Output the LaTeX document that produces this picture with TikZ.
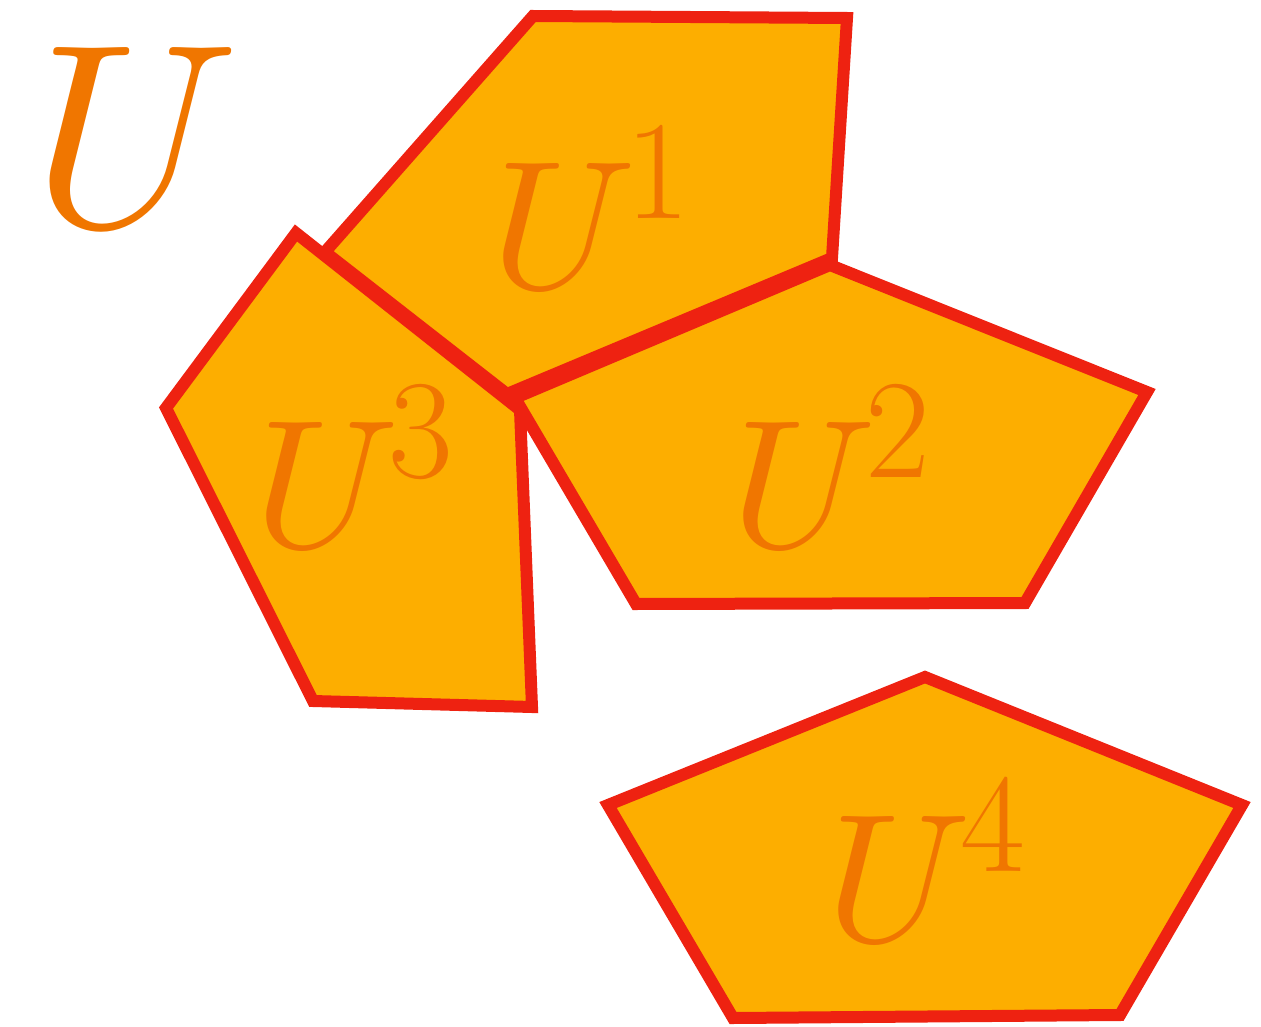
\documentclass[tikz,border=0pt]{standalone}
\DeclareFontShape{OML}{cmm}{m}{it}{<->cmmi10}{}
\DeclareFontShape{OT1}{cmr}{m}{n}{<->cmr10}{}
\DeclareFontShape{OMS}{cmsy}{m}{n}{<->cmsy10}{}
\DeclareMathSizes{183}{183}{141}{110}
\DeclareMathSizes{262}{262}{190}{150}
\definecolor{pfill}{RGB}{253,174,0}
\definecolor{pline}{RGB}{238,34,17}
\definecolor{ptext}{RGB}{240,118,0}
\newcommand{\usub}[1]{$U$\kern-11pt\raisebox{70pt}{\fontsize{141}{141}\selectfont #1}}
\tikzset{
  region/.style={draw=pline, fill=pfill, line width=12pt, line join=miter},
  lab/.style={text=ptext, inner sep=0pt, anchor=base west, font=\fontsize{183}{183}\selectfont},
  biglab/.style={text=ptext, inner sep=0pt, anchor=base west, font=\fontsize{262}{262}\selectfont}
}
\begin{document}
\begin{tikzpicture}[x=1pt,y=-1pt]
\useasboundingbox (0,0) rectangle (1261,1027);
% regions
\draw[region] (533,16) -- (847,18) -- (832,258) -- (507,394) -- (325,252) -- cycle;
\draw[region] (830,265) -- (1147,392) -- (1025,603) -- (636,604) -- (515,398) -- cycle;
\draw[region] (296,233) -- (520,410) -- (532,707) -- (313,701) -- (166,408) -- cycle;
\draw[region] (925,677) -- (1242,805) -- (1120,1015) -- (733,1018) -- (608,805) -- cycle;
% labels
\node[biglab] (U) at (32,226) {$U$};
\node[lab] (U1) at (491,288) {\usub{1}};
\node[lab] (U3) at (254,547) {\usub{3}};
\node[lab] (U2) at (731,547) {\usub{2}};
\node[lab] (U4) at (826,941) {\usub{4}};
\end{tikzpicture}
\end{document}
